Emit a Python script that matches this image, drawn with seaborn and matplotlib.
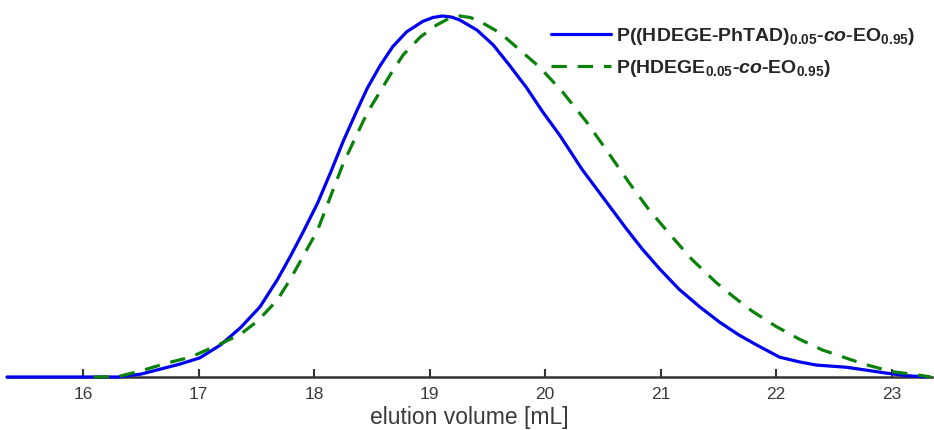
import matplotlib
matplotlib.use("Agg")
import matplotlib.pyplot as plt
import seaborn as sns
import pandas as pd

# Normalised SEC traces (elution volume in mL, relative detector response)
vol_phtad = [15.34, 16.30, 16.50, 16.67, 16.84, 17.01, 17.19, 17.36, 17.53, 17.68,
             17.79, 17.90, 18.03, 18.14, 18.25, 18.37, 18.46, 18.57, 18.68, 18.80,
             18.94, 19.03, 19.11, 19.19, 19.26, 19.41, 19.55, 19.69, 19.84, 19.98,
             20.13, 20.32, 20.53, 20.70, 20.84, 20.99, 21.16, 21.34, 21.51, 21.68,
             21.83, 22.03, 22.20, 22.35, 22.61, 22.78, 22.95, 23.12, 23.30]
sig_phtad = [0.0, 0.0, 0.008, 0.022, 0.036, 0.053, 0.089, 0.136, 0.194, 0.269,
             0.332, 0.399, 0.482, 0.565, 0.652, 0.738, 0.800, 0.862, 0.915, 0.956,
             0.985, 0.996, 1.0, 0.997, 0.989, 0.961, 0.920, 0.864, 0.801, 0.734,
             0.668, 0.575, 0.485, 0.412, 0.355, 0.300, 0.243, 0.194, 0.152, 0.116,
             0.089, 0.055, 0.042, 0.033, 0.027, 0.019, 0.011, 0.004, 0.0]

vol_prec = [16.09, 16.30, 16.50, 16.73, 16.93, 17.19, 17.36, 17.51, 17.68, 17.79,
            17.90, 18.03, 18.14, 18.25, 18.37, 18.46, 18.57, 18.66, 18.77, 18.92,
            19.06, 19.16, 19.26, 19.35, 19.43, 19.61, 19.78, 19.95, 20.15, 20.36,
            20.53, 20.73, 20.90, 21.10, 21.27, 21.48, 21.62, 21.79, 22.00, 22.20,
            22.40, 22.61, 22.78, 23.00, 23.24, 23.34]
sig_prec = [0.0, 0.001, 0.017, 0.039, 0.055, 0.092, 0.118, 0.155, 0.213, 0.269,
            0.332, 0.407, 0.499, 0.590, 0.672, 0.732, 0.790, 0.838, 0.892, 0.942,
            0.975, 0.992, 1.0, 0.996, 0.986, 0.953, 0.906, 0.859, 0.790, 0.706,
            0.629, 0.537, 0.463, 0.388, 0.326, 0.262, 0.225, 0.183, 0.140, 0.105,
            0.075, 0.052, 0.034, 0.015, 0.005, 0.0]

xticks = [16, 17, 18, 19, 20, 21, 22, 23]

label_phtad = r"P((HDEGE-PhTAD)$_{\mathbf{0.05}}$-$\mathit{co}$-EO$_{\mathbf{0.95}}$)"
label_prec = r"P(HDEGE$_{\mathbf{0.05}}$-$\mathit{co}$-EO$_{\mathbf{0.95}}$)"

sns.set_style("white")
plt.rcParams["font.family"] = ["Liberation Sans", "DejaVu Sans"]
plt.rcParams["mathtext.fontset"] = "custom"
plt.rcParams["mathtext.rm"] = "Liberation Sans:bold"
plt.rcParams["mathtext.bf"] = "Liberation Sans:bold"
plt.rcParams["mathtext.it"] = "Liberation Sans:bold:italic"

df_a = pd.DataFrame({"vol": vol_phtad, "sig": sig_phtad})
df_b = pd.DataFrame({"vol": vol_prec, "sig": sig_prec})

fig = plt.figure(figsize=(9.34, 4.30), dpi=100)
ax = fig.add_axes([7 / 934, 53 / 430, 925 / 934, (377 - 16) / 430])

sns.lineplot(data=df_a, x="vol", y="sig", ax=ax, color="#0000f0", lw=2.3,
             label=label_phtad, sort=False, zorder=3)
sns.lineplot(data=df_b, x="vol", y="sig", ax=ax, color="#0a820a", lw=2.3,
             label=label_prec, sort=False, zorder=4)
lines = ax.get_lines()
for ln in lines:
    ln.set_clip_on(False)
    ln.set_solid_joinstyle("round")
lines[1].set_dashes((4.8, 3.4))

ax.set_xlim(15.34, 23.35)
ax.set_ylim(0, 1.0)
ax.set_xticks(xticks)
ax.set_xticklabels([str(t) for t in xticks], fontsize=12.5, color="#3a3a3a")
ax.set_yticks([])
ax.set_xlabel("elution volume [mL]", fontsize=16.5, color="#3a3a3a", labelpad=3)
ax.set_ylabel("")

for side in ("left", "right", "top"):
    ax.spines[side].set_visible(False)
ax.spines["bottom"].set_color("#333333")
ax.spines["bottom"].set_linewidth(1.8)
ax.spines["bottom"].set_zorder(2)
ax.tick_params(axis="x", bottom=True, direction="in", length=5.8, width=1.5,
               color="#333333", pad=7)

leg = ax.legend(loc="upper left", bbox_to_anchor=(551 / 934, 1 - 26 / 430),
                bbox_transform=fig.transFigure, frameon=False, fontsize=14,
                handlelength=3.1, handletextpad=0.25, borderpad=0, borderaxespad=0,
                labelspacing=0.55)
for t in leg.get_texts():
    t.set_fontweight("bold")

fig.savefig("out.png", dpi=100)
